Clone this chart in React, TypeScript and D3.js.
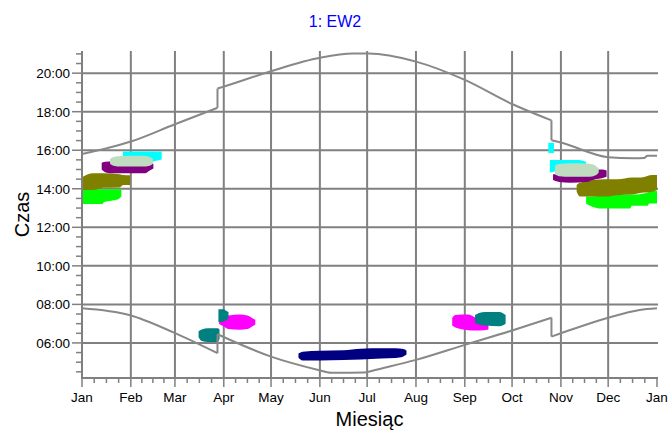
import React, { useEffect, useRef } from "react";
import * as d3 from "d3";

// axis labels / ticks
const monthLabels = ["Jan", "Feb", "Mar", "Apr", "May", "Jun", "Jul", "Aug", "Sep", "Oct", "Nov", "Dec", "Jan"];
const monthStarts = [0, 31, 59, 90, 120, 151, 181, 212, 243, 273, 304, 334, 365];
const hourTicks = [6, 8, 10, 12, 14, 16, 18, 20];

// sunrise / sunset (day of year, hour), DST jumps included
const sunset: [number, number][] = [
  [0, 15.8], [31, 16.45], [59, 17.35], [86, 18.2], [86, 19.2], [90, 19.3],
  [120, 20.1], [151, 20.8], [172, 21.02], [182, 21.02], [212, 20.6],
  [243, 19.65], [273, 18.4], [298, 17.55], [298, 16.52], [304, 16.4],
  [334, 15.64], [350, 15.58], [357, 15.6], [359, 15.72], [365, 15.72],
];
const sunrise: [number, number][] = [
  [0, 7.8], [30, 7.45], [58, 6.55], [86, 5.47], [86, 6.45], [120, 5.29],
  [150, 4.6], [158, 4.45], [179, 4.46], [186, 4.6], [212, 5.12],
  [243, 5.9], [274, 6.67], [298, 7.31], [298, 6.33], [304, 6.5],
  [334, 7.31], [354, 7.71], [365, 7.8],
];

// blobs: [day, low hour, high hour]
const limeJan: [number, number, number][] = [
  [0.5, 13.21, 13.97], [13, 13.21, 13.97], [14, 13.31, 13.97], [23, 13.46, 13.97], [25, 13.6, 13.95],
];
const oliveJan: [number, number, number][] = [
  [0.5, 13.93, 14.62], [7, 13.93, 14.8], [13.5, 14.05, 14.8], [24, 14.07, 14.75], [26, 14.19, 14.71], [30.5, 14.2, 14.7],
];
const purpleJan: [number, number, number][] = [
  [12.5, 15.0, 15.35], [15, 14.85, 15.4], [20, 14.8, 15.42], [40, 14.8, 15.4], [43, 14.95, 15.35], [45.3, 15.05, 15.3],
];
const cyanJan: [number, number, number][] = [
  [26, 15.6, 15.93], [30, 15.5, 15.93], [45, 15.4, 15.93], [47, 15.45, 15.93], [50.6, 15.52, 15.93],
];
const greyGreenJan: [number, number, number][] = [
  [17.8, 15.3, 15.55], [20, 15.2, 15.65], [25, 15.15, 15.7], [38, 15.15, 15.72], [43, 15.2, 15.65], [45, 15.3, 15.55],
];
const tealApr1: [number, number, number][] = [
  [74, 6.3, 6.6], [76, 6.1, 6.7], [80, 6.05, 6.76], [86, 6.05, 6.76], [87.3, 6.2, 6.7],
];
const magentaApr: [number, number, number][] = [
  [87, 6.98, 7.1], [90, 6.85, 7.35], [93, 6.72, 7.42], [100, 6.69, 7.47], [105, 6.72, 7.42], [108, 6.85, 7.3], [110, 6.95, 7.2],
];
const tealApr2: [number, number, number][] = [
  [86.6, 7.08, 7.75], [90, 7.1, 7.75], [91, 7.15, 7.7], [93, 7.25, 7.6],
];
const navyJun: [number, number, number][] = [
  [137.4, 5.25, 5.45], [140, 5.09, 5.54], [151, 5.09, 5.6], [166, 5.12, 5.62], [177, 5.14, 5.7],
  [190, 5.19, 5.72], [199, 5.22, 5.72], [204, 5.3, 5.68], [206, 5.4, 5.6],
];
const magentaSep: [number, number, number][] = [
  [235, 6.9, 7.3], [237, 6.8, 7.45], [245, 6.66, 7.47], [250, 6.64, 7.3], [255, 6.66, 7.1], [258, 6.7, 6.9],
];
const tealSep: [number, number, number][] = [
  [249.5, 7.05, 7.45], [252, 6.95, 7.55], [256, 6.9, 7.61], [265, 6.87, 7.61], [268.9, 7.0, 7.45],
];
const cyanNov: [number, number, number][] = [
  [297, 14.85, 15.49], [300, 14.9, 15.49], [315, 15.1, 15.49], [318, 15.2, 15.45], [320, 15.25, 15.4],
];
const cyanNovSmall: [number, number, number][] = [
  [296, 15.86, 16.38], [299.6, 15.86, 16.38],
];
const limeNov: [number, number, number][] = [
  [320, 13.24, 13.6], [323, 13.1, 13.6], [328, 12.98, 13.62], [348, 12.98, 13.7], [349, 13.12, 13.7],
  [359, 13.12, 13.8], [360, 13.24, 13.85], [365, 13.24, 13.9],
];
const oliveNov: [number, number, number][] = [
  [314, 13.84, 14.19], [316, 13.6, 14.31], [332, 13.6, 14.49], [340, 13.67, 14.49], [349, 13.7, 14.59],
  [355, 13.79, 14.59], [362, 13.85, 14.71], [365, 13.93, 14.71],
];
const purpleNov: [number, number, number][] = [
  [299, 14.45, 14.75], [303, 14.35, 14.75], [310, 14.31, 14.8], [320, 14.35, 14.9], [326, 14.5, 14.98],
  [330, 14.55, 15.0], [333, 14.62, 14.95],
];
const greyGreenNov: [number, number, number][] = [
  [300.3, 14.75, 15.2], [303, 14.65, 15.28], [310, 14.62, 15.32], [322, 14.62, 15.3], [326, 14.7, 15.2], [328, 14.85, 15.05],
];

const blobs: { data: [number, number, number][]; color: string }[] = [
  { data: limeJan, color: "#00ff00" },
  { data: oliveJan, color: "#808000" },
  { data: purpleJan, color: "#800080" },
  { data: cyanJan, color: "#00ffff" },
  { data: greyGreenJan, color: "#c0dcc0" },
  { data: limeNov, color: "#00ff00" },
  { data: oliveNov, color: "#808000" },
  { data: cyanNovSmall, color: "#00ffff" },
  { data: cyanNov, color: "#00ffff" },
  { data: purpleNov, color: "#800080" },
  { data: greyGreenNov, color: "#c0dcc0" },
  { data: tealApr1, color: "#008080" },
  { data: magentaApr, color: "#ff00ff" },
  { data: tealApr2, color: "#008080" },
  { data: navyJun, color: "#000080" },
  { data: magentaSep, color: "#ff00ff" },
  { data: tealSep, color: "#008080" },
];

const W = 671;
const H = 430;
const left = 82;
const right = 657;
const top = 51;
const bottom = 378;
const grey = "#808080";
const font = "Arial, 'Liberation Sans', sans-serif";

// split a curve where the same day appears twice (clock change)
function splitAtJumps(pts: [number, number][]) {
  const parts: [number, number][][] = [[pts[0]]];
  for (let i = 1; i < pts.length; i++) {
    if (pts[i][0] === pts[i - 1][0]) parts.push([]);
    parts[parts.length - 1].push(pts[i]);
  }
  return parts;
}

function Chart() {
  const svgRef: any = useRef(null);

  useEffect(() => {
    const svg = d3.select(svgRef.current);
    svg.selectAll("*").remove();

    const x = d3.scaleLinear().domain([0, 365]).range([left, right]);
    const y = d3.scaleLinear().domain([4.18, 21.15]).range([bottom, top]);

    // gridlines
    svg
      .append("g")
      .selectAll("line")
      .data(monthStarts.slice(1, 12))
      .join("line")
      .attr("x1", (d) => x(d))
      .attr("x2", (d) => x(d))
      .attr("y1", top)
      .attr("y2", bottom)
      .attr("stroke", grey)
      .attr("stroke-width", 2);
    svg
      .append("g")
      .selectAll("line")
      .data(hourTicks)
      .join("line")
      .attr("x1", left)
      .attr("x2", right + 1)
      .attr("y1", (d) => y(d))
      .attr("y2", (d) => y(d))
      .attr("stroke", grey)
      .attr("stroke-width", 2);

    // blobs
    const area = d3
      .area<[number, number, number]>()
      .x((d) => x(d[0]))
      .y0((d) => y(d[1]))
      .y1((d) => y(d[2]))
      .curve(d3.curveMonotoneX);
    svg
      .append("g")
      .selectAll("path")
      .data(blobs)
      .join("path")
      .attr("d", (b) => area(b.data) as string)
      .attr("fill", (b) => b.color);

    // sun curves
    const line = d3
      .line<[number, number]>()
      .x((d) => x(d[0]))
      .y((d) => y(d[1]))
      .curve(d3.curveMonotoneX);
    const sun = svg.append("g").attr("fill", "none").attr("stroke", "#888").attr("stroke-width", 2);
    [sunset, sunrise].forEach((s) => {
      splitAtJumps(s).forEach((part) => {
        sun.append("path").attr("d", line(part) as string);
      });
      for (let i = 1; i < s.length; i++) {
        if (s[i][0] === s[i - 1][0]) {
          sun.append("line")
            .attr("x1", x(s[i][0]))
            .attr("x2", x(s[i][0]))
            .attr("y1", y(s[i - 1][1]))
            .attr("y2", y(s[i][1]));
        }
      }
    });

    // y axis
    const minorHours = d3.range(4.5, 21.01, 0.5).filter((h) => h % 2 !== 0);
    const ya = svg.append("g");
    ya.append("line")
      .attr("x1", left)
      .attr("x2", left)
      .attr("y1", top)
      .attr("y2", bottom + 1)
      .attr("stroke", grey)
      .attr("stroke-width", 2);
    ya.selectAll(".minor")
      .data(minorHours)
      .join("line")
      .attr("x1", left - 6)
      .attr("x2", left)
      .attr("y1", (d) => y(d))
      .attr("y2", (d) => y(d))
      .attr("stroke", grey)
      .attr("stroke-width", 1.5);
    ya.selectAll(".major")
      .data(hourTicks)
      .join("line")
      .attr("x1", left - 10)
      .attr("x2", left)
      .attr("y1", (d) => y(d))
      .attr("y2", (d) => y(d))
      .attr("stroke", grey)
      .attr("stroke-width", 1.5);
    ya.selectAll("text")
      .data(hourTicks)
      .join("text")
      .attr("x", left - 12)
      .attr("y", (d) => y(d) + 5)
      .attr("text-anchor", "end")
      .attr("font-family", font)
      .attr("font-size", 13.5)
      .attr("fill", "#000")
      .text((d) => `${String(d).padStart(2, "0")}:00`);

    // x axis
    const minorDays: number[] = [];
    for (let m = 0; m < 12; m++) {
      const len = monthStarts[m + 1] - monthStarts[m];
      for (let k = 1; k < 4; k++) minorDays.push(monthStarts[m] + (len * k) / 4);
    }
    const xa = svg.append("g");
    xa.append("line")
      .attr("x1", left - 1)
      .attr("x2", right + 1)
      .attr("y1", bottom)
      .attr("y2", bottom)
      .attr("stroke", grey)
      .attr("stroke-width", 2);
    xa.selectAll(".minor")
      .data(minorDays)
      .join("line")
      .attr("x1", (d) => x(d))
      .attr("x2", (d) => x(d))
      .attr("y1", bottom)
      .attr("y2", bottom + 5)
      .attr("stroke", grey)
      .attr("stroke-width", 1.5);
    xa.selectAll(".major")
      .data(monthStarts)
      .join("line")
      .attr("x1", (d) => x(d))
      .attr("x2", (d) => x(d))
      .attr("y1", bottom)
      .attr("y2", bottom + 9)
      .attr("stroke", grey)
      .attr("stroke-width", 1.5);
    xa.selectAll("text")
      .data(monthStarts)
      .join("text")
      .attr("x", (d) => x(d))
      .attr("y", bottom + 24)
      .attr("text-anchor", "middle")
      .attr("font-family", font)
      .attr("font-size", 13.5)
      .attr("fill", "#000")
      .text((d, i) => monthLabels[i]);

    // titles
    svg
      .append("text")
      .attr("x", 335)
      .attr("y", 27)
      .attr("text-anchor", "middle")
      .attr("font-family", font)
      .attr("font-size", 16)
      .attr("fill", "#0000ff")
      .text("1: EW2");
    svg
      .append("text")
      .attr("x", (left + right) / 2)
      .attr("y", 426)
      .attr("text-anchor", "middle")
      .attr("font-family", font)
      .attr("font-size", 20)
      .attr("fill", "#000")
      .text("Miesiąc");
    svg
      .append("text")
      .attr("transform", `translate(29, ${(top + bottom) / 2}) rotate(-90)`)
      .attr("text-anchor", "middle")
      .attr("font-family", font)
      .attr("font-size", 20)
      .attr("fill", "#000")
      .text("Czas");
  }, []);

  return (
    <svg
      ref={svgRef}
      width={W}
      height={H}
      viewBox={`0 0 ${W} ${H}`}
      style={{ position: "absolute", left: 0, top: 0, background: "#fff", display: "block" }}
    />
  );
}

export default function App() {
  return <Chart />;
}
